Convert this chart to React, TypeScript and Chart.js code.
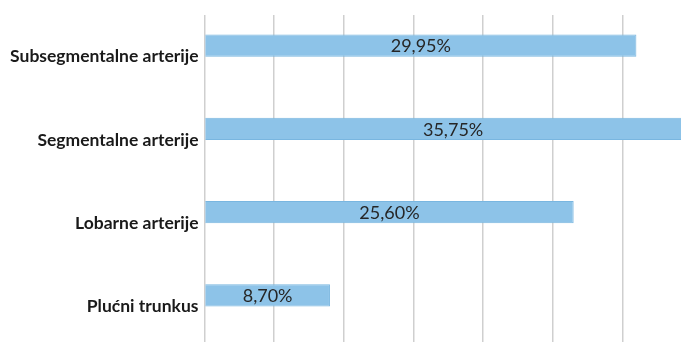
import React, { useEffect, useRef } from 'react';
import { Chart, registerables } from 'chart.js';

Chart.register(...registerables);

const categories = ['Subsegmentalne arterije', 'Segmentalne arterije', 'Lobarne arterije', 'Plućni trunkus'];
const values = [29.95, 35.75, 25.6, 8.7];
const valueLabels = ['29,95%', '35,75%', '25,60%', '8,70%'];
const axisMax = 34.43;
const gridStep = 4.83;

const labelPlugin = {
  id: 'barLabels',
  afterDatasetsDraw(chart: any) {
    const { ctx, chartArea } = chart;
    const meta = chart.getDatasetMeta(0);
    ctx.save();
    ctx.font = '18px Lato';
    ctx.fillStyle = '#262626';
    ctx.textAlign = 'center';
    ctx.textBaseline = 'middle';
    meta.data.forEach((bar: any, i: number) => {
      const { x, y, base } = bar.getProps(['x', 'y', 'base'], true);
      const end = Math.min(x, chartArea.right);
      ctx.fillText(valueLabels[i], (base + end) / 2, y + 1);
    });
    ctx.restore();
  },
};

export default function App() {
  const ref = useRef<HTMLCanvasElement | null>(null);
  useEffect(() => {
    if (!ref.current) return;
    const chart = new Chart(ref.current, {
      type: 'bar',
      data: {
        labels: categories,
        datasets: [
          {
            data: values,
            backgroundColor: '#8dc3e8',
            borderColor: '#79b6e0',
            borderWidth: 1,
            categoryPercentage: 0.53,
            barPercentage: 1,
          },
          {
            data: categories.map(() => null),
            categoryPercentage: 0.53,
            barPercentage: 1,
          },
        ],
      },
      options: {
        indexAxis: 'y',
        responsive: false,
        animation: false,
        layout: { padding: { top: 15, left: 0, right: 0, bottom: 0 } },
        plugins: { legend: { display: false }, tooltip: { enabled: false } },
        scales: {
          x: {
            min: 0,
            max: axisMax,
            ticks: { display: false, stepSize: gridStep },
            grid: { color: '#cfcfcf', lineWidth: 1.5, drawTicks: false },
            border: { display: false },
            afterFit: (s: any) => {
              s.height = 0;
              s.paddingLeft = 0;
              s.paddingRight = 0;
            },
          },
          y: {
            ticks: {
              font: { family: 'Lato', weight: 'bold', size: 17.5 },
              color: '#1a1a1a',
              padding: 6,
            },
            grid: { display: false, drawTicks: false },
            border: { display: false },
            afterFit: (s: any) => {
              s.width = 204.5;
              s.paddingTop = 0;
              s.paddingBottom = 0;
            },
          },
        },
      },
      plugins: [labelPlugin],
    } as any);
    return () => chart.destroy();
  }, []);
  return (
    <div
      style={{
        position: 'fixed',
        left: 0,
        top: 0,
        width: 681,
        height: 342,
        overflow: 'hidden',
        background: '#fff',
      }}
    >
      <canvas ref={ref} width={701} height={348} style={{ display: 'block' }} />
    </div>
  );
}
